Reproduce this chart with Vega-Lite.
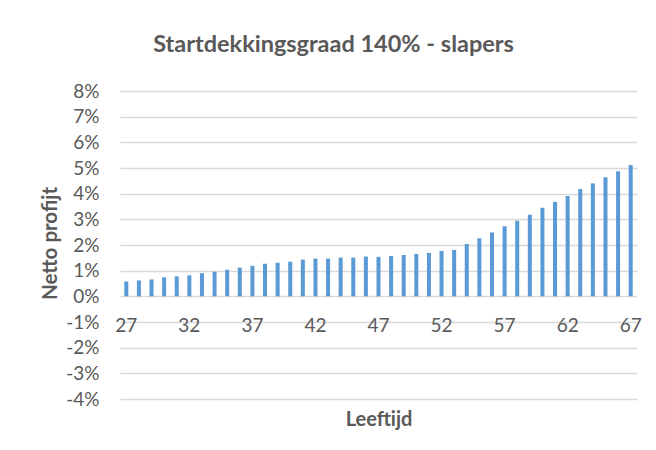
{
  "$schema": "https://vega.github.io/schema/vega-lite/v6.json",
  "autosize": "none",
  "width": 517,
  "height": 308,
  "padding": {"left": 120, "top": 91, "right": 19, "bottom": 51},
  "background": "white",
  "title": {
    "text": "Startdekkingsgraad 140% - slapers",
    "font": "Lato",
    "fontSize": 23.5,
    "fontWeight": "bold",
    "color": "#595959",
    "anchor": "middle",
    "frame": "group",
    "dx": -45,
    "baseline": "alphabetic",
    "offset": 7
  },
  "data": {
    "values": [
      {"Leeftijd": 27, "Netto profijt": 0.58},
      {"Leeftijd": 28, "Netto profijt": 0.62},
      {"Leeftijd": 29, "Netto profijt": 0.66},
      {"Leeftijd": 30, "Netto profijt": 0.74},
      {"Leeftijd": 31, "Netto profijt": 0.78},
      {"Leeftijd": 32, "Netto profijt": 0.82},
      {"Leeftijd": 33, "Netto profijt": 0.9},
      {"Leeftijd": 34, "Netto profijt": 0.96},
      {"Leeftijd": 35, "Netto profijt": 1.04},
      {"Leeftijd": 36, "Netto profijt": 1.12},
      {"Leeftijd": 37, "Netto profijt": 1.19},
      {"Leeftijd": 38, "Netto profijt": 1.27},
      {"Leeftijd": 39, "Netto profijt": 1.31},
      {"Leeftijd": 40, "Netto profijt": 1.35},
      {"Leeftijd": 41, "Netto profijt": 1.43},
      {"Leeftijd": 42, "Netto profijt": 1.47},
      {"Leeftijd": 43, "Netto profijt": 1.47},
      {"Leeftijd": 44, "Netto profijt": 1.51},
      {"Leeftijd": 45, "Netto profijt": 1.51},
      {"Leeftijd": 46, "Netto profijt": 1.55},
      {"Leeftijd": 47, "Netto profijt": 1.54},
      {"Leeftijd": 48, "Netto profijt": 1.57},
      {"Leeftijd": 49, "Netto profijt": 1.61},
      {"Leeftijd": 50, "Netto profijt": 1.65},
      {"Leeftijd": 51, "Netto profijt": 1.69},
      {"Leeftijd": 52, "Netto profijt": 1.77},
      {"Leeftijd": 53, "Netto profijt": 1.81},
      {"Leeftijd": 54, "Netto profijt": 2.04},
      {"Leeftijd": 55, "Netto profijt": 2.26},
      {"Leeftijd": 56, "Netto profijt": 2.49},
      {"Leeftijd": 57, "Netto profijt": 2.73},
      {"Leeftijd": 58, "Netto profijt": 2.95},
      {"Leeftijd": 59, "Netto profijt": 3.18},
      {"Leeftijd": 60, "Netto profijt": 3.45},
      {"Leeftijd": 61, "Netto profijt": 3.68},
      {"Leeftijd": 62, "Netto profijt": 3.91},
      {"Leeftijd": 63, "Netto profijt": 4.18},
      {"Leeftijd": 64, "Netto profijt": 4.4},
      {"Leeftijd": 65, "Netto profijt": 4.64},
      {"Leeftijd": 66, "Netto profijt": 4.87},
      {"Leeftijd": 67, "Netto profijt": 5.12}
    ]
  },
  "mark": {"type": "bar", "color": "#5B9BD5"},
  "encoding": {
    "x": {
      "field": "Leeftijd",
      "type": "ordinal",
      "scale": {"paddingInner": 0.68, "paddingOuter": 0.34},
      "axis": {
        "values": [27, 32, 37, 42, 47, 52, 57, 62, 67],
        "offset": -102.7,
        "domain": false,
        "ticks": false,
        "labelAngle": 0,
        "labelPadding": 20,
        "labelFont": "Lato",
        "labelFontSize": 19,
        "labelColor": "#595959",
        "title": "Leeftijd",
        "titleFont": "Lato",
        "titleFontSize": 20,
        "titleFontWeight": "bold",
        "titleColor": "#595959",
        "titleBaseline": "alphabetic",
        "titleY": 129
      }
    },
    "y": {
      "field": "Netto profijt",
      "type": "quantitative",
      "scale": {"domain": [-4, 8], "nice": false, "zero": false},
      "axis": {
        "values": [-4, -3, -2, -1, 0, 1, 2, 3, 4, 5, 6, 7, 8],
        "labelExpr": "datum.value + '%'",
        "domain": false,
        "ticks": false,
        "labelPadding": 21,
        "labelFont": "Lato",
        "labelFontSize": 19,
        "labelColor": "#595959",
        "gridColor": "#D9D9D9",
        "gridWidth": 1.3,
        "title": "Netto profijt",
        "titleFont": "Lato",
        "titleFontSize": 20.5,
        "titleFontWeight": "bold",
        "titleColor": "#595959",
        "titleAngle": -90,
        "titleAlign": "center",
        "titleBaseline": "middle",
        "titleX": -70,
        "titleY": 152
      }
    }
  },
  "config": {"view": {"stroke": null}}
}
